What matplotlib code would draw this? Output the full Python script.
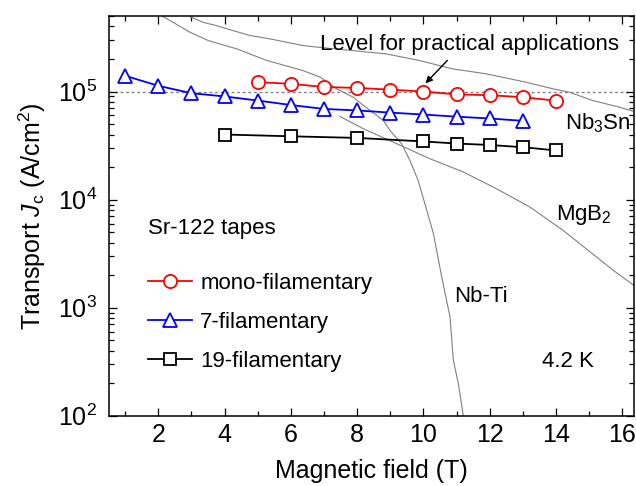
import matplotlib
matplotlib.use("Agg")
import matplotlib.pyplot as plt
from matplotlib.ticker import MultipleLocator, LogLocator, NullFormatter
from matplotlib.lines import Line2D

plt.rcParams['font.family'] = ['Liberation Sans', 'DejaVu Sans']
plt.rcParams['mathtext.fontset'] = 'custom'
plt.rcParams['mathtext.rm'] = 'Liberation Sans'
plt.rcParams['mathtext.it'] = 'Liberation Sans:italic'
plt.rcParams['mathtext.bf'] = 'Liberation Sans:bold'

# ── Sr-122 tapes, transport Jc at 4.2 K ──
mono_B  = [5, 6, 7, 8, 9, 10, 11, 12, 13, 14]
mono_Jc = [1.22e5, 1.18e5, 1.10e5, 1.08e5, 1.04e5, 1.00e5, 0.94e5, 0.925e5, 0.885e5, 0.823e5]

f7_B  = [1, 2, 3, 4, 5, 6, 7, 8, 9, 10, 11, 12, 13]
f7_Jc = [1.40e5, 1.13e5, 0.965e5, 0.90e5, 0.825e5, 0.75e5, 0.69e5, 0.668e5,
         0.638e5, 0.612e5, 0.585e5, 0.563e5, 0.535e5]

f19_B  = [4, 6, 8, 10, 11, 12, 13, 14]
f19_Jc = [4.0e4, 3.85e4, 3.72e4, 3.45e4, 3.30e4, 3.20e4, 3.05e4, 2.85e4]

# ── reference conductors (grey curves) ──
nbti_B  = [2.15, 2.45, 2.96, 3.51, 4.37, 5.27, 6.37, 6.88, 7.38, 7.88, 8.39, 8.79,
           8.99, 9.34, 9.59, 9.84, 10.10, 10.30, 10.55, 10.80, 10.90, 11.05, 11.20]
nbti_Jc = [4.93e5, 4.36e5, 3.53e5, 2.96e5, 2.48e5, 1.94e5, 1.56e5, 1.36e5, 1.06e5,
           8.85e4, 6.67e4, 5.40e4, 4.36e4, 3.29e4, 2.30e4, 1.50e4, 7.94e3, 4.84e3,
           1.92e3, 820, 327, 199, 100]

nb3sn_B  = [2.96, 3.36, 3.76, 4.26, 4.77, 5.37, 6.37, 6.88, 8.87, 9.87, 10.88,
            11.88, 13.09, 13.90, 14.40, 15.10, 15.91, 16.35]
nb3sn_Jc = [4.93e5, 4.36e5, 4.07e5, 3.66e5, 3.30e5, 3.07e5, 2.66e5, 2.56e5, 2.23e5,
            1.94e5, 1.62e5, 1.46e5, 1.22e5, 1.06e5, 9.86e4, 8.26e4, 7.16e4, 6.53e4]

mgb2_B  = [7.48, 8.19, 9.19, 10.19, 11.20, 12.20, 13.21, 14.21, 15.22, 15.72, 16.34]
mgb2_Jc = [5.88e4, 4.52e4, 3.29e4, 2.39e4, 1.80e4, 1.26e4, 8.53e3, 5.19e3,
           2.94e3, 2.22e3, 1.61e3]

practical_level = 1e5

GREY = '#808080'

fig = plt.figure(figsize=(6.36, 4.86), dpi=100)
ax = fig.add_axes([0.1706, 0.1447, 0.8263, 0.8224])

# reference curves
for b, jc in [(nbti_B, nbti_Jc), (nb3sn_B, nb3sn_Jc), (mgb2_B, mgb2_Jc)]:
    ax.plot(b, jc, color=GREY, lw=0.8, zorder=2)

ax.axhline(practical_level, color=GREY, lw=1.0, ls=(0, (2, 2)), zorder=1)

# tape data
mk = dict(mfc='white', mew=1.3, lw=1.3, zorder=4)
ax.plot(mono_B, mono_Jc, '-o', color='#FF0000', ms=9.5, **mk)
ax.plot(f7_B, f7_Jc, '-^', color='#0000FF', ms=10, **mk)
ax.plot(f19_B, f19_Jc, '-s', color='black', ms=8.5, **mk)

ax.set_yscale('log')
ax.set_xlim(0.5, 16.35)
ax.set_ylim(100, 5e5)

ax.xaxis.set_major_locator(MultipleLocator(2))
ax.xaxis.set_minor_locator(MultipleLocator(1))
ax.yaxis.set_major_locator(LogLocator(base=10, numticks=10))
ax.yaxis.set_minor_locator(LogLocator(base=10, subs=range(2, 10), numticks=20))
ax.yaxis.set_minor_formatter(NullFormatter())

ax.tick_params(which='both', direction='in', top=True, right=True, width=0.9)
ax.tick_params(which='major', length=6, labelsize=18, pad=5)
ax.tick_params(axis='y', which='major', pad=8)
ax.tick_params(which='minor', length=3.5)
for sp in ax.spines.values():
    sp.set_linewidth(1.1)

ax.set_xlabel('Magnetic field (T)', fontsize=18, labelpad=9)
ax.set_ylabel(r'Transport $J_\mathrm{c}$ (A/cm$^2$)', fontsize=18, labelpad=7)

# legend
handles = [
    Line2D([], [], color='#FF0000', marker='o', ms=9.5, mfc='white', mew=1.3, lw=1.3),
    Line2D([], [], color='#0000FF', marker='^', ms=10, mfc='white', mew=1.3, lw=1.3),
    Line2D([], [], color='black', marker='s', ms=8.5, mfc='white', mew=1.3, lw=1.3),
]
labels = ['mono-filamentary', '7-filamentary', '19-filamentary']
ax.legend(handles, labels, loc='upper left', bbox_to_anchor=(0.075, 0.358),
          frameon=False, fontsize=16, handlelength=2.0, handletextpad=0.35,
          labelspacing=0.82, borderaxespad=0, borderpad=0)

# annotations
ax.text(1.69, 5.4e3, 'Sr-122 tapes', fontsize=16, va='center', ha='left')
ax.text(11.39, 2.72e5, 'Level for practical applications', fontsize=16,
        ha='center', va='center')
ax.annotate('', xy=(10.06, 1.19e5), xytext=(10.72, 1.94e5),
            arrowprops=dict(arrowstyle='-|>', color='black', lw=1.0,
                            mutation_scale=10, shrinkA=0, shrinkB=0))
ax.text(14.28, 5.06e4, r'Nb$_3$Sn', fontsize=16, ha='left', va='center')
ax.text(14.0, 7.15e3, r'MgB$_2$', fontsize=16, ha='left', va='center')
ax.text(10.91, 1.26e3, 'Nb-Ti', fontsize=16, ha='left', va='center')
ax.text(13.58, 320, '4.2 K', fontsize=16, ha='left', va='center')

fig.savefig('out.png', dpi=100)
